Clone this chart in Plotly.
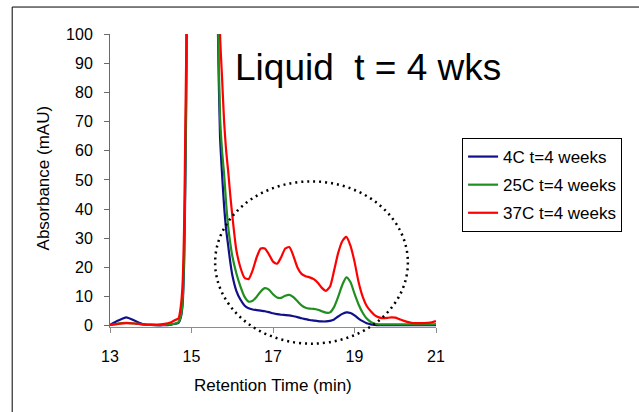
import plotly.graph_objects as go

# Retention time grid (min)
time_min = [13.0, 13.2, 13.4, 13.6, 13.8, 14.0, 14.3, 14.5, 14.6, 14.68, 14.74, 14.78, 14.82, 14.85, 14.88,
            14.95, 15.2, 15.5, 15.6, 15.65, 15.7, 15.75, 15.8, 15.85, 15.9, 15.95, 16.0, 16.1, 16.2, 16.3,
            16.4, 16.5, 16.6, 16.7, 16.8, 16.9, 17.0, 17.1, 17.2, 17.3, 17.4, 17.5, 17.6, 17.7, 17.8, 17.9,
            18.0, 18.1, 18.2, 18.3, 18.4, 18.5, 18.6, 18.7, 18.8, 18.9, 19.0, 19.1, 19.2, 19.3, 19.4, 19.5,
            19.6, 19.7, 19.8, 19.9, 20.0, 20.1, 20.2, 20.4, 20.6, 20.8, 20.9, 21.0]

abs_4c = [0.3, 1.8, 2.9, 1.8, 0.6, 0.3, 0.2, 0.4, 0.7, 1.0, 3, 7, 22, 50, 92,
          250, 400, 350, 200, 100, 65, 52, 41, 33, 27.5, 22, 17.5, 12, 9, 7,
          6, 5.6, 5.4, 5.2, 5.0, 4.7, 4.3, 4.0, 3.8, 3.7, 3.6, 3.3, 3.0, 2.6, 2.3, 2.0,
          1.8, 1.6, 1.5, 1.5, 1.7, 2.2, 3.2, 4.1, 4.6, 4.4, 3.6, 2.5, 1.6, 0.9, 0.5, 0.3,
          0.2, 0.2, 0.2, 0.2, 0.2, 0.2, 0.2, 0.2, 0.2, 0.2, 0.2, 0.2]

abs_25c = [0.2, 0.8, 1.0, 0.8, 0.5, 0.3, 0.3, 0.5, 0.8, 1.2, 3.5, 8, 25, 55, 95,
           250, 400, 350, 200, 105, 72, 60, 52, 42, 34, 28.5, 24, 18, 13.5, 10,
           8.3, 8.6, 10, 11.8, 12.9, 12.4, 10.8, 9.7, 9.6, 10.3, 10.6, 9.8, 8.4, 7.0, 6.2, 5.9,
           5.8, 5.5, 5.0, 4.5, 4.6, 6.5, 10, 14, 16.6, 15, 11, 7.3, 4.5, 2.5, 1.3, 0.7,
           0.5, 0.5, 0.5, 0.5, 0.5, 0.5, 0.5, 0.5, 0.5, 0.5, 0.5, 0.6]

abs_37c = [0.3, 0.7, 0.9, 0.8, 0.5, 0.4, 0.6, 1.2, 2.0, 2.5, 7, 14, 35, 70, 105,
           250, 400, 350, 250, 150, 100, 85, 70, 60, 53, 45, 38, 26, 20, 16.5,
           16, 19, 23.5, 26.5, 26.5, 24.5, 22, 21.3, 23.5, 26.5, 27, 24, 20, 17.8, 17, 16.6,
           16, 14.8, 13, 12, 13.5, 19, 25, 29, 30.5, 27.5, 22, 15, 10, 6.8, 5, 3.6,
           2.9, 2.6, 2.7, 2.9, 2.8, 2.3, 1.8, 1.0, 0.9, 1.0, 1.2, 1.6]

series_names = ["4C t=4 weeks", "25C t=4 weeks", "37C t=4 weeks"]
series_values = [abs_4c, abs_25c, abs_37c]
series_colors = ["#10108a", "#1f8f1f", "#ff0000"]

x_ticks = [13, 15, 17, 19, 21]
y_ticks = [0, 10, 20, 30, 40, 50, 60, 70, 80, 90, 100]

x_range = [13, 21]
y_range = [-0.4, 100]

fig = go.Figure()
for i, (name, vals, col) in enumerate(zip(series_names, series_values, series_colors)):
    fig.add_trace(go.Scatter(
        x=time_min, y=vals, mode="lines", name=name, legendgroup=f"g{i}",
        line=dict(color=col, width=2.2, shape="spline", smoothing=0.6),
    ))

font_family = "Liberation Sans, Arial, sans-serif"

# Highlight ellipse defined in data units, converted to paper units (so it is not clipped)
ell_x = [15.58, 20.31]
ell_y = [-6.1, 49.5]
def to_paper_x(v):
    return (v - x_range[0]) / (x_range[1] - x_range[0])
def to_paper_y(v):
    return (v - y_range[0]) / (y_range[1] - y_range[0])

fig.add_shape(type="circle", xref="paper", yref="paper",
              x0=to_paper_x(ell_x[0]), x1=to_paper_x(ell_x[1]),
              y0=to_paper_y(ell_y[0]), y1=to_paper_y(ell_y[1]),
              line=dict(color="black", width=2.5, dash="2px,4px"), layer="above")

# Outer frame
fig.add_shape(type="rect", xref="paper", yref="paper",
              x0=-0.3, x1=1.7, y0=-0.5, y1=1.092,
              line=dict(color="black", width=1), layer="below")

fig.add_annotation(text="Liquid\u00a0 t = 4 wks", xref="paper", yref="paper",
                   x=0.791, y=0.884, xanchor="center", yanchor="middle", showarrow=False,
                   font=dict(family=font_family, size=37, color="black"))
fig.add_annotation(text="Retention Time (min)", xref="paper", yref="paper",
                   x=0.5, y=-0.201, xanchor="center", yanchor="middle", showarrow=False,
                   font=dict(family=font_family, size=17, color="black"))
fig.add_annotation(text="Absorbance (mAU)", xref="paper", yref="paper",
                   x=-0.2055, y=0.507, xanchor="center", yanchor="middle", showarrow=False,
                   textangle=-90, font=dict(family=font_family, size=17, color="black"))

fig.update_layout(
    width=639, height=412,
    margin=dict(l=110, r=203, t=34, b=85),
    paper_bgcolor="white", plot_bgcolor="white",
    font=dict(family=font_family, color="black"),
    showlegend=True,
    legend=dict(x=1.08, y=0.645, xanchor="left", yanchor="top",
                bordercolor="black", borderwidth=1, bgcolor="white",
                font=dict(family=font_family, size=17, color="black"),
                traceorder="grouped", tracegroupgap=3, itemwidth=30),
    xaxis=dict(range=x_range, tickvals=x_ticks, ticktext=[str(t) for t in x_ticks],
               showgrid=False, zeroline=False, showline=True, linecolor="#8c8c8c", linewidth=1,
               ticks="outside", ticklen=5, tickcolor="#8c8c8c", ticklabelstandoff=10,
               tickfont=dict(family=font_family, size=16, color="black")),
    yaxis=dict(range=y_range, tickvals=y_ticks, ticktext=[str(t) for t in y_ticks],
               showgrid=False, zeroline=False, showline=True, linecolor="#6a6a6a", linewidth=1,
               ticks="outside", ticklen=5, tickcolor="#6a6a6a", ticklabelstandoff=8,
               tickfont=dict(family=font_family, size=16, color="black")),
)

fig.write_html("out.html")
